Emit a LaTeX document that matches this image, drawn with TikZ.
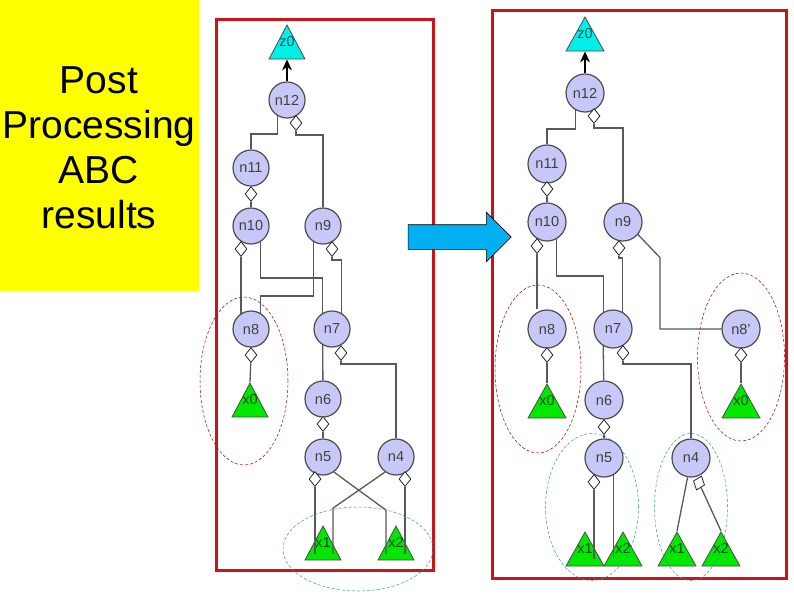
\documentclass[tikz,border=0pt]{standalone}
\usepackage{fontspec}
\setmainfont{Liberation Sans}
\usepackage{xcolor}
\usetikzlibrary{arrows.meta, shapes.geometric, shapes.arrows}
\definecolor{titleyellow}{RGB}{255,255,0}
\definecolor{framered}{RGB}{204,20,24}
\definecolor{circlefill}{RGB}{200,200,248}
\definecolor{leafgreen}{RGB}{0,232,0}
\definecolor{rootcyan}{RGB}{0,240,232}
\definecolor{arrowblue}{RGB}{0,176,240}
\newcommand{\lift}[1]{\smash{\raisebox{6pt}{#1}}}
\begin{document}
\begin{tikzpicture}[x=1pt, y=-1pt, >={Stealth[length=11pt, width=10pt]}, font=\fontsize{14.5}{16}\selectfont,
  frame/.style={draw=framered, line width=3pt},
  gate/.style={circle, draw=black!70, line width=1.2pt, fill=circlefill, text=black!75, inner sep=0pt, minimum size=36pt},
  gatewide/.style={gate, minimum size=38pt},
  tri/.style={isosceles triangle, isosceles triangle stretches, shape border rotate=90, draw=black!70, line width=0.8pt, inner sep=0pt, minimum width=36pt, minimum height=34pt, anchor=apex},
  triwide/.style={tri, minimum width=38pt},
  leaf/.style={tri, fill=leafgreen, text=green!30!black},
  leafwide/.style={triwide, fill=leafgreen, text=green!30!black},
  root/.style={tri, fill=rootcyan, text=teal!70!black},
  rootwide/.style={triwide, fill=rootcyan, text=teal!70!black},
  inv/.style={diamond, draw=black!85, line width=0.8pt, fill=white, inner sep=0pt, minimum width=12pt, minimum height=15pt},
  wire/.style={draw=black!65, line width=1.3pt},
  ring/.style={ellipse, densely dashed, line width=0.5pt, inner sep=0pt},
  redring/.style={ring, draw=red!65!black},
  bluering/.style={ring, draw=teal!80!white}]
\useasboundingbox (0,0) rectangle (794,595);

% title
\fill[titleyellow] (0,0) rectangle (199,291);
\node[align=center, font=\fontsize{39}{45}\selectfont, inner sep=0pt] (title) at (99,148) {Post\\Processing\\ABC\\results};

% frames and big arrow
\draw[frame] (216,19) rectangle (433,570);
\draw[frame] (492,10) rectangle (786,578);
\node[single arrow, draw=black, line width=0.6pt, fill=arrowblue, inner sep=0pt, inner ysep=12pt, minimum height=103pt, single arrow head extend=12.5pt, single arrow head indent=0pt] (go) at (453.5,237) {};

% left circuit
\node[root] (lz0) at (287,24) {\lift{z0}};
\node[gate] (ln12) at (287,100) {n12};
\node[gate] (ln11) at (251,168) {n11};
\node[gate] (ln10) at (251,226) {n10};
\node[gate] (ln9) at (323,226) {n9};
\node[gate] (ln8) at (251,329) {n8};
\node[gate] (ln7) at (332,329) {n7};
\node[gate] (ln6) at (323,399) {n6};
\node[gate] (ln5) at (323,457) {n5};
\node[gate] (ln4) at (396,457) {n4};
\node[leaf] (lx0) at (250,382) {\lift{x0}};
\node[leaf] (lx1) at (323,525) {\lift{x1}};
\node[leaf] (lx2) at (396,525) {\lift{x2}};
\node[inv] (ld12) at (296,123) {};
\node[inv] (ld11) at (251,194) {};
\node[inv] (ld10) at (241,249) {};
\node[inv] (ld9) at (332,249) {};
\node[inv] (ld8) at (251,355) {};
\node[inv] (ld7) at (341,353) {};
\node[inv] (ld6) at (323,424) {};
\node[inv] (ld5) at (315,479) {};
\node[inv] (ld4) at (405,479) {};
\draw[->, wire, draw=black] (ln12) -- (lz0.lower side);
\draw[wire] (ln12.240) -- ++(0,18) -| (ln11.north);
\draw[wire] (ld12.south) -- ++(0,4) -| (ln9.north);
\draw[wire] (ld11) -- (ln10);
\draw[wire] (ld10.south) -- (ld10.south |- ln8.130);
\draw[wire] (ln10.300) -- ++(0,36) -| (ln7.120);
\draw[wire] (ln9.240) -- ++(0,54) -| (ln8.60);
\draw[wire] (ld9.south) -- ++(0,3) -| (ln7.60);
\draw[wire] (ln7.240) -- (ln6);
\draw[wire] (ld7.south) -- ++(0,3) -| (ln4.north);
\draw[wire] (ln6) -- (ld6) -- (ln5);
\draw[wire] (ld8) -- (lx0.apex);
\draw[wire] (ld5.south) -- (ld5.south |- lx1.center);
\draw[wire] (ld4.south) -- (ld4.south |- lx2.center);
\draw[wire] (ln5.-54) -- ++(52,38) coordinate (lc5) -- (lc5 |- lx2.center);
\draw[wire] (ln4.234) -- ++(-52,36) coordinate (lc4) -- (lc4 |- lx1.center);
\node[redring, minimum width=88pt, minimum height=168pt] (lred) at (244,381) {};
\node[bluering, minimum width=150pt, minimum height=84pt] (lblue) at (358,549) {};

% right circuit
\node[rootwide] (rz0) at (585,16) {\lift{z0}};
\node[gatewide] (rn12) at (585,93) {n12};
\node[gatewide] (rn11) at (547,164) {n11};
\node[gatewide] (rn10) at (547,222) {n10};
\node[gatewide] (rn9) at (623,222) {n9};
\node[gatewide] (rn8) at (547,329) {n8};
\node[gatewide] (rn7) at (613,329) {n7};
\node[gatewide] (rn8p) at (741,329) {n8'};
\node[gatewide] (rn6) at (604,400) {n6};
\node[gatewide] (rn5) at (604,458) {n5};
\node[gatewide] (rn4) at (691,458) {n4};
\node[leafwide] (rx0) at (547,383) {\lift{x0}};
\node[leafwide] (rx0p) at (741,383) {\lift{x0}};
\node[leafwide] (rx1) at (585,531) {\lift{x1}};
\node[leafwide] (rx2) at (623,531) {\lift{x2}};
\node[leafwide] (rx1p) at (677,531) {\lift{x1}};
\node[leafwide] (rx2p) at (721,531) {\lift{x2}};
\node[inv] (rd12) at (594,116) {};
\node[inv] (rd11) at (547,189) {};
\node[inv] (rd10) at (537,246) {};
\node[inv] (rd9) at (619,248) {};
\node[inv] (rd8) at (547,355) {};
\node[inv] (rd7) at (623,353) {};
\node[inv] (rd8p) at (741,355) {};
\node[inv] (rd6) at (604,427) {};
\node[inv] (rd5) at (594,482) {};
\node[inv, rotate=-20] (rd4) at (699,483) {};
\draw[->, wire, draw=black] (rn12) -- (rz0.lower side);
\draw[wire] (rn12.240) -- ++(0,19) -| (rn11.north);
\draw[wire] (rd12.south) -- ++(0,4) -| (rn9.north);
\draw[wire] (rd11) -- (rn10);
\draw[wire] (rd10.south) -- (rd10.south |- rn8.north);
\draw[wire] (rn10.300) -- ++(0,37) -| (rn7.120);
\draw[wire] (rd9.south) -- ++(0,2) -| (rn7.60);
\draw[wire] (rn9.-40) -- ++(22,23) |- (rn8p.west);
\draw[wire] (rn7.240) -- (rn6);
\draw[wire] (rd7.south) -- ++(0,3) -| (rn4.north);
\draw[wire] (rn6) -- (rd6) -- (rn5);
\draw[wire] (rd8) -- (rx0.apex);
\draw[wire] (rd8p) -- (rx0p.apex);
\draw[wire] (rd5.south) -- (rd5.south |- rx1.center);
\draw[wire] (rn5.300) -- (rn5.300 |- rx2.center);
\draw[wire] (rn4.260) -- (rx1p.apex);
\draw[wire] (rd4) -- (rx2p.apex);
\node[redring, minimum width=86pt, minimum height=168pt] (rred) at (538,369) {};
\node[redring, minimum width=87pt, minimum height=168pt] (rredp) at (741,357) {};
\node[bluering, minimum width=93pt, minimum height=147pt] (rblue) at (592,507) {};
\node[bluering, minimum width=73pt, minimum height=147pt] (rbluep) at (691,507) {};
\end{tikzpicture}
\end{document}
